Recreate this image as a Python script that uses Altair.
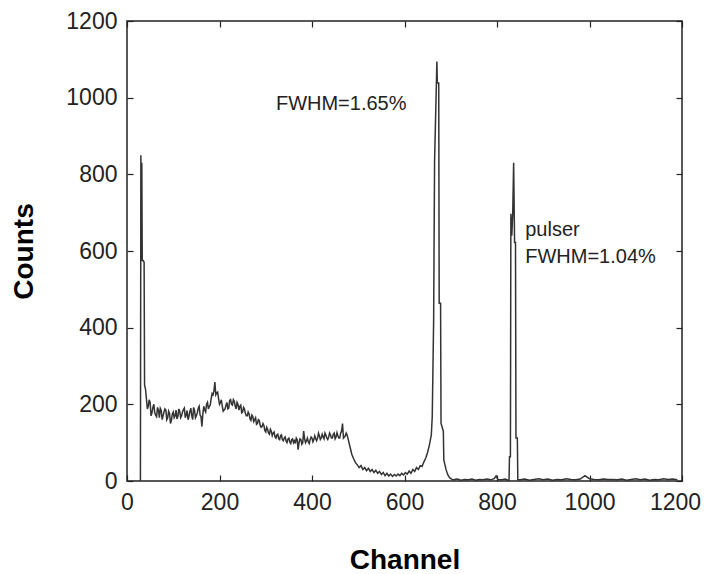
import altair as alt
import pandas as pd

# ---- data ----
spike_ch = [29, 30, 31, 32, 33, 35, 37, 38, 40]
spike_ct = [0, 850, 590, 830, 575, 575, 570, 250, 240]

cont_ch_a = list(range(42, 479, 4))
cont_ct_a = [215, 195, 205, 178, 200, 172, 192, 165, 185, 170,
             188, 160, 182, 150, 175, 165, 185, 168, 182, 170,
             186, 165, 184, 168, 190, 160, 185, 170, 190, 172,
             142, 195, 180, 205, 195, 215, 225, 258, 230, 215,
             205, 195, 185, 198, 188, 210, 200, 212, 195, 205,
             185, 198, 180, 188, 170, 180, 162, 172, 155, 165,
             150, 158, 140, 150, 132, 140, 125, 135, 118, 128,
             112, 122, 108, 120, 105, 115, 100, 112, 98, 110,
             105, 112, 82, 110, 96, 130, 100, 112, 98, 115,
             102, 118, 105, 125, 108, 122, 110, 120, 108, 125,
             112, 122, 110, 126, 112, 125, 150, 115, 125, 110]

cont_ch_b = list(range(44, 477, 4))
cont_ct_b = [188, 212, 170, 192, 178, 168, 185, 190, 160, 180,
             185, 165, 176, 158, 180, 170, 162, 188, 165, 180,
             190, 172, 160, 182, 170, 192, 165, 178, 195, 168,
             175, 185, 200, 188, 198, 228, 235, 225, 232, 200,
             212, 182, 188, 205, 190, 212, 198, 208, 188, 200,
             195, 178, 192, 176, 170, 175, 158, 168, 160, 148,
             160, 145, 142, 145, 128, 135, 122, 130, 125, 115,
             120, 110, 118, 108, 112, 104, 110, 102, 108, 100,
             98, 108, 100, 108, 100, 110, 105, 102, 108, 112,
             108, 110, 112, 118, 112, 115, 125, 112, 115, 120,
             112, 125, 115, 118, 112, 130, 112, 118, 120]

edge_ch = list(range(482, 659, 4))
edge_ct = [90, 70, 58, 48, 42, 35, 40, 30, 35, 27,
           33, 25, 30, 22, 28, 20, 25, 17, 22, 14,
           20, 13, 18, 12, 17, 13, 18, 14, 20, 16,
           22, 18, 26, 20, 30, 25, 35, 30, 40, 38,
           50, 60, 75, 95, 120]

peak_ch = [660, 663, 665, 669, 670, 671, 674, 675, 678, 679, 684, 685, 690, 694, 698, 702]
peak_ct = [168, 420, 833, 1038, 1094, 1038, 1038, 464, 464, 150, 130, 55, 29, 15, 8, 5]

tail1_ch = [706, 714, 722, 730, 738, 746, 754, 762, 770, 778, 786, 794, 798, 802, 810, 818, 824]
tail1_ct = [3, 5, 2, 4, 3, 5, 2, 4, 3, 5, 3, 6, 13, 4, 3, 5, 2]

pulser_ch = [826, 827, 829, 830, 832, 834, 836, 838, 840, 841, 844, 845]
pulser_ct = [2, 63, 63, 697, 640, 697, 830, 622, 622, 112, 112, 3]

tail2_ch = list(range(850, 1191, 10))
tail2_ct = [3, 5, 2, 4, 6, 3, 5, 2, 4, 3,
            6, 4, 3, 5, 14, 6, 4, 3, 5, 4,
            4, 3, 5, 2, 4, 6, 3, 5, 2, 4,
            3, 6, 4, 5, 3]

channels = (spike_ch + cont_ch_a + cont_ch_b + edge_ch + peak_ch
            + tail1_ch + pulser_ch + tail2_ch)
counts = (spike_ct + cont_ct_a + cont_ct_b + edge_ct + peak_ct
          + tail1_ct + pulser_ct + tail2_ct)

ticks = [0, 200, 400, 600, 800, 1000, 1200]
domain_lo, domain_hi = 0, 1200

ann_ch = [322, 861, 861]
ann_ct = [968, 639, 569]
ann_txt = ["FWHM=1.65%", "pulser", "FWHM=1.04%"]

df = pd.DataFrame({"ch": channels, "ct": counts}).sort_values("ch").reset_index(drop=True)
df_ann = pd.DataFrame({"ch": ann_ch, "ct": ann_ct, "t": ann_txt})

FONT = "Liberation Sans"
xs = alt.Scale(domain=[domain_lo, domain_hi], nice=False, zero=False)
ys = alt.Scale(domain=[domain_lo, domain_hi], nice=False, zero=False)

common_lab = dict(values=ticks, offset=-6, tickSize=6, tickColor="#222", tickWidth=1.2,
                  domain=False, grid=False, labelPadding=10, labelFontSize=23,
                  labelFont=FONT, labelColor="#222", labelFlush=False, format="d",
                  titleFontSize=28, titleFont=FONT, titleFontWeight="bold", titleColor="#000")

line = alt.Chart(df).mark_line(color="#333333", strokeWidth=1.5).encode(
    x=alt.X("ch:Q", scale=xs, axis=alt.Axis(
        orient="bottom", title="Channel", titlePadding=32,
        labelOffset={"condition": {"test": "datum.value == 1200", "value": -7}, "value": 0},
        **common_lab)),
    y=alt.Y("ct:Q", scale=ys, axis=alt.Axis(orient="left", title="Counts",
                                            titlePadding=27, **common_lab)),
)

common_tick = dict(values=ticks, offset=-6, tickSize=6, tickColor="#222", tickWidth=1.2,
                   domain=False, grid=False, labels=False, title=None)

frame = alt.Chart(df).mark_line(strokeOpacity=0).encode(
    x=alt.X("ch:Q", scale=xs, axis=alt.Axis(orient="top", **common_tick)),
    y=alt.Y("ct:Q", scale=ys, axis=alt.Axis(orient="right", **common_tick)),
)

ann = alt.Chart(df_ann).mark_text(
    align="left", baseline="alphabetic", fontSize=20, font=FONT, color="#222"
).encode(
    x=alt.X("ch:Q", scale=xs, axis=None),
    y=alt.Y("ct:Q", scale=ys, axis=None),
    text="t:N",
)

chart = alt.layer(line, frame, ann).resolve_axis(
    x="independent", y="independent"
).properties(
    width=555, height=460,
    background="white",
    autosize=alt.AutoSizeParams(type="none"),
    padding={"left": 119, "top": 13, "right": 19, "bottom": 95},
).configure_view(stroke="#222", strokeWidth=1.5)

chart.save("out.html", embed_options={"renderer": "svg", "actions": False})
